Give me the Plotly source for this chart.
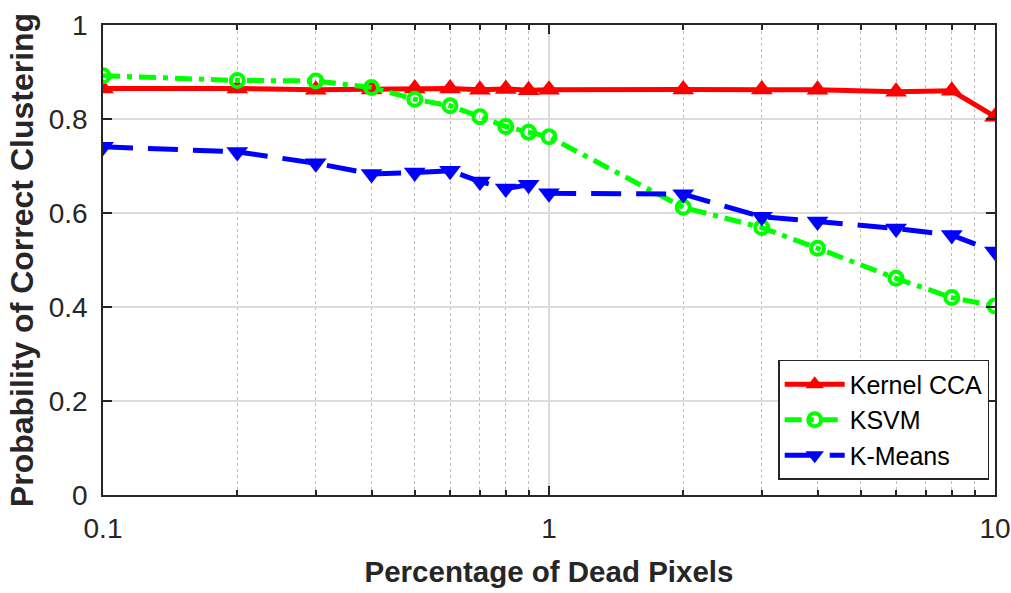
import plotly.graph_objects as go

x_vals = [0.1, 0.2, 0.3, 0.4, 0.5, 0.6, 0.7, 0.8, 0.9, 1, 2, 3, 4, 6, 8, 10]
kernel_cca = [0.865, 0.865, 0.862, 0.863, 0.865, 0.865, 0.862, 0.864, 0.861, 0.862,
              0.863, 0.863, 0.862, 0.858, 0.860, 0.805]
ksvm = [0.892, 0.882, 0.881, 0.867, 0.842, 0.828, 0.805, 0.784, 0.772, 0.762,
        0.612, 0.569, 0.525, 0.461, 0.420, 0.402]
kmeans = [0.741, 0.730, 0.706, 0.683, 0.686, 0.690, 0.667, 0.652, 0.660, 0.642,
          0.640, 0.592, 0.582, 0.567, 0.553, 0.518]

fig = go.Figure()
fig.add_trace(go.Scatter(
    x=x_vals, y=kernel_cca, name="Kernel CCA", mode="lines+markers",
    line=dict(color="#ff0000", width=5, dash="solid"),
    marker=dict(symbol="triangle-up", size=19, color="#ff0000"),
))
fig.add_trace(go.Scatter(
    x=x_vals, y=ksvm, name="KSVM", mode="lines+markers",
    line=dict(color="#00ff00", width=5, dash="17px,7px,5px,7px"),
    marker=dict(symbol="circle-open", size=13, color="#00ff00", line=dict(width=4, color="#00ff00")),
))
fig.add_trace(go.Scatter(
    x=x_vals, y=kmeans, name="K-Means", mode="lines+markers",
    line=dict(color="#0000ff", width=5, dash="30px,15px"),
    marker=dict(symbol="triangle-down", size=19, color="#0000ff"),
))

font_family = "Liberation Sans, Arial, sans-serif"
axis_font = dict(family=font_family, size=28, color="#262626")

fig.update_layout(
    width=1011, height=593,
    margin=dict(l=103, r=16, t=25, b=98),
    paper_bgcolor="white", plot_bgcolor="white",
    showlegend=True,
    legend=dict(
        x=0.9935, y=0.032, xanchor="right", yanchor="bottom",
        bgcolor="white", bordercolor="#262626", borderwidth=1.5,
        font=dict(family=font_family, size=25, color="black"),
        itemwidth=60, tracegroupgap=0,
    ),
    xaxis=dict(
        type="log", range=[-1, 1], automargin=False,
        tickvals=[0.1, 1, 10], ticktext=["0.1", "1", "10"],
        ticks="inside", ticklen=9, tickcolor="#262626", tickwidth=1.5,
        ticklabelstandoff=8,
        showline=True, linecolor="#262626", linewidth=1.5, mirror="allticks",
        showgrid=True, gridcolor="#dcdcdc", gridwidth=1.5,
        minor=dict(ticks="inside", ticklen=5, tickcolor="#262626",
                   showgrid=True, gridcolor="#bdbdbd", griddash="dot", gridwidth=1,
                   dtick="D1"),
        tickfont=axis_font,
        title=dict(text="<b>Percentage of Dead Pixels</b>",
                   font=dict(family=font_family, size=29.5, color="#262626"), standoff=18),
        zeroline=False,
    ),
    yaxis=dict(
        range=[0, 1], automargin=False, tickvals=[0, 0.2, 0.4, 0.6, 0.8, 1],
        ticktext=["0", "0.2", "0.4", "0.6", "0.8", "1"],
        ticks="inside", ticklen=9, tickcolor="#262626", tickwidth=1.5,
        ticklabelstandoff=8,
        showline=True, linecolor="#262626", linewidth=1.5, mirror="allticks",
        showgrid=True, gridcolor="#dcdcdc", gridwidth=1.5,
        tickfont=axis_font,
        title=dict(text="<b>Probability of Correct Clustering</b>",
                   font=dict(family=font_family, size=32, color="#262626"), standoff=6),
        zeroline=False,
    ),
)

fig.write_html("out.html")
